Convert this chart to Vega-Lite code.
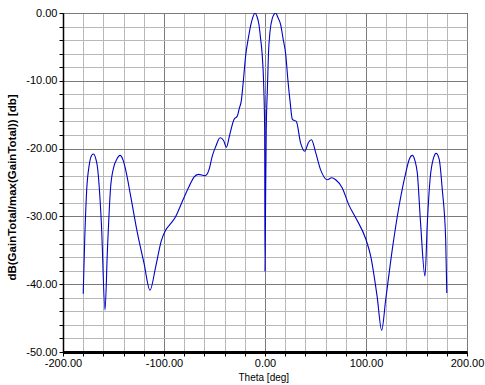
{
  "$schema": "https://vega.github.io/schema/vega-lite/v6.json",
  "width": 404,
  "height": 339,
  "autosize": "none",
  "padding": {"left": 63, "top": 13, "right": 18, "bottom": 33},
  "background": "white",
  "config": {
    "view": {"stroke": "#000000", "strokeWidth": 1},
    "font": "Liberation Sans"
  },
  "data": {
    "values": [
      {"theta": -180, "db": -41.4},
      {"theta": -178.5, "db": -33.4},
      {"theta": -176.5, "db": -26},
      {"theta": -174, "db": -22.4},
      {"theta": -172.5, "db": -21.3},
      {"theta": -170, "db": -20.8},
      {"theta": -167.5, "db": -21.5},
      {"theta": -166, "db": -22.6},
      {"theta": -162, "db": -31},
      {"theta": -158.4, "db": -43.8},
      {"theta": -156, "db": -34.9},
      {"theta": -152.8, "db": -25.6},
      {"theta": -149.5, "db": -22.6},
      {"theta": -146.5, "db": -21.5},
      {"theta": -143.6, "db": -21.0},
      {"theta": -140.5, "db": -21.7},
      {"theta": -138, "db": -23.1},
      {"theta": -133, "db": -27},
      {"theta": -126.4, "db": -32.4},
      {"theta": -119.8, "db": -36.9},
      {"theta": -113.9, "db": -40.9},
      {"theta": -108.2, "db": -37.4},
      {"theta": -102.7, "db": -33.6},
      {"theta": -98.3, "db": -32},
      {"theta": -93, "db": -31},
      {"theta": -88.4, "db": -30},
      {"theta": -81.9, "db": -27.8},
      {"theta": -75.2, "db": -25.6},
      {"theta": -70.3, "db": -24.2},
      {"theta": -66, "db": -23.8},
      {"theta": -59.4, "db": -24},
      {"theta": -55.4, "db": -23.1},
      {"theta": -52.2, "db": -21.1},
      {"theta": -48.8, "db": -19.7},
      {"theta": -44.5, "db": -18.4},
      {"theta": -41, "db": -18.8},
      {"theta": -38.3, "db": -19.8},
      {"theta": -35, "db": -18},
      {"theta": -30.7, "db": -15.7},
      {"theta": -27.4, "db": -15.2},
      {"theta": -25.3, "db": -14},
      {"theta": -23.5, "db": -13},
      {"theta": -21.5, "db": -10.1},
      {"theta": -19, "db": -6.1},
      {"theta": -16.5, "db": -3.7},
      {"theta": -14, "db": -1.7},
      {"theta": -12, "db": -0.6},
      {"theta": -9.9, "db": 0},
      {"theta": -8, "db": -0.5},
      {"theta": -6, "db": -1.7},
      {"theta": -4.4, "db": -3.7},
      {"theta": -2.8, "db": -6.1},
      {"theta": -1.2, "db": -11.1},
      {"theta": -0.3, "db": -17.5},
      {"theta": 0, "db": -38.1},
      {"theta": 0.4, "db": -31},
      {"theta": 1.2, "db": -17.5},
      {"theta": 2.4, "db": -11.1},
      {"theta": 3.4, "db": -6.1},
      {"theta": 5.0, "db": -2.7},
      {"theta": 7.3, "db": -0.75},
      {"theta": 8.6, "db": -0.3},
      {"theta": 10.6, "db": 0},
      {"theta": 12.6, "db": -0.6},
      {"theta": 15.5, "db": -1.7},
      {"theta": 17.8, "db": -3.7},
      {"theta": 20.5, "db": -6.1},
      {"theta": 22.8, "db": -10.1},
      {"theta": 24.8, "db": -13},
      {"theta": 27.1, "db": -15.7},
      {"theta": 31, "db": -16},
      {"theta": 35.3, "db": -19.2},
      {"theta": 39.4, "db": -20.4},
      {"theta": 43, "db": -19.1},
      {"theta": 46, "db": -18.7},
      {"theta": 50.2, "db": -20.6},
      {"theta": 55, "db": -23.1},
      {"theta": 61.7, "db": -24.6},
      {"theta": 66, "db": -24.3},
      {"theta": 70, "db": -24.6},
      {"theta": 76.5, "db": -25.8},
      {"theta": 83, "db": -28.3},
      {"theta": 89.8, "db": -30.2},
      {"theta": 99.7, "db": -33.3},
      {"theta": 104.7, "db": -35.9},
      {"theta": 111, "db": -41.8},
      {"theta": 115.5, "db": -46.8},
      {"theta": 119.5, "db": -42.3},
      {"theta": 126, "db": -34.9},
      {"theta": 132.7, "db": -28.5},
      {"theta": 139.3, "db": -23.6},
      {"theta": 142.8, "db": -21.6},
      {"theta": 145.8, "db": -21.0},
      {"theta": 148.5, "db": -21.8},
      {"theta": 150.8, "db": -23.6},
      {"theta": 154, "db": -30.9},
      {"theta": 158.4, "db": -38.8},
      {"theta": 160.7, "db": -31},
      {"theta": 163.4, "db": -24.6},
      {"theta": 166.8, "db": -21.4},
      {"theta": 169.6, "db": -20.7},
      {"theta": 172.5, "db": -21.6},
      {"theta": 175.5, "db": -26},
      {"theta": 178.9, "db": -33.4},
      {"theta": 180, "db": -41.3}
    ]
  },
  "mark": {"type": "line", "color": "#0000c8", "strokeWidth": 1.1, "interpolate": "monotone", "clip": true},
  "encoding": {
    "x": {
      "field": "theta",
      "type": "quantitative",
      "scale": {"domain": [-200, 200], "nice": false, "zero": false},
      "axis": {
        "orient": "bottom",
        "values": [-200, -180, -160, -140, -120, -100, -80, -60, -40, -20, 0, 20, 40, 60, 80, 100, 120, 140, 160, 180, 200],
        "labelExpr": "datum.value % 100 === 0 ? replace(format(datum.value, '.2f'), '\u2212', '-') : ''",
        "labelFont": "Liberation Sans",
        "labelFontSize": 11,
        "labelColor": "#000000",
        "labelPadding": 1,
        "labelFlush": false,
        "labelOverlap": false,
        "domainColor": "#000000",
        "domainWidth": 3,
        "tickColor": "#000000",
        "tickSize": 4,
        "grid": true,
        "gridColor": {"condition": {"test": "datum.value % 100 === 0", "value": "#7a7a7a"}, "value": "#b8b8b8"},
        "gridWidth": 1,
        "title": "Theta [deg]",
        "titleFont": "Liberation Sans",
        "titleFontSize": 10,
        "titleFontWeight": "normal",
        "titleColor": "#000000",
        "titleAlign": "left",
        "titleAnchor": null,
        "titleX": 175,
        "titleY": 28,
        "titleBaseline": "alphabetic"
      }
    },
    "y": {
      "field": "db",
      "type": "quantitative",
      "scale": {"domain": [-50, 0], "nice": false, "zero": false},
      "axis": {
        "orient": "left",
        "values": [-50, -48, -46, -44, -42, -40, -38, -36, -34, -32, -30, -28, -26, -24, -22, -20, -18, -16, -14, -12, -10, -8, -6, -4, -2, 0],
        "labelExpr": "datum.value % 10 === 0 ? replace(format(datum.value, '.2f'), '\u2212', '-') : ''",
        "labelFont": "Liberation Sans",
        "labelFontSize": 11,
        "labelColor": "#000000",
        "labelPadding": 2,
        "labelFlush": false,
        "labelOverlap": false,
        "domainColor": "#000000",
        "domainWidth": 1.5,
        "tickColor": "#000000",
        "tickSize": 4,
        "grid": true,
        "gridColor": {"condition": {"test": "datum.value % 10 === 0", "value": "#7a7a7a"}, "value": "#b8b8b8"},
        "gridWidth": 1,
        "title": "dB(GainTotal/max(GainTotal)) [db]",
        "titleFont": "Liberation Sans",
        "titleFontSize": 11.5,
        "titleFontWeight": "bold",
        "titleColor": "#000000",
        "titleAnchor": "middle",
        "titleX": -48,
        "titleY": 174,
        "titleBaseline": "alphabetic",
        "titleAngle": -90
      }
    }
  }
}
